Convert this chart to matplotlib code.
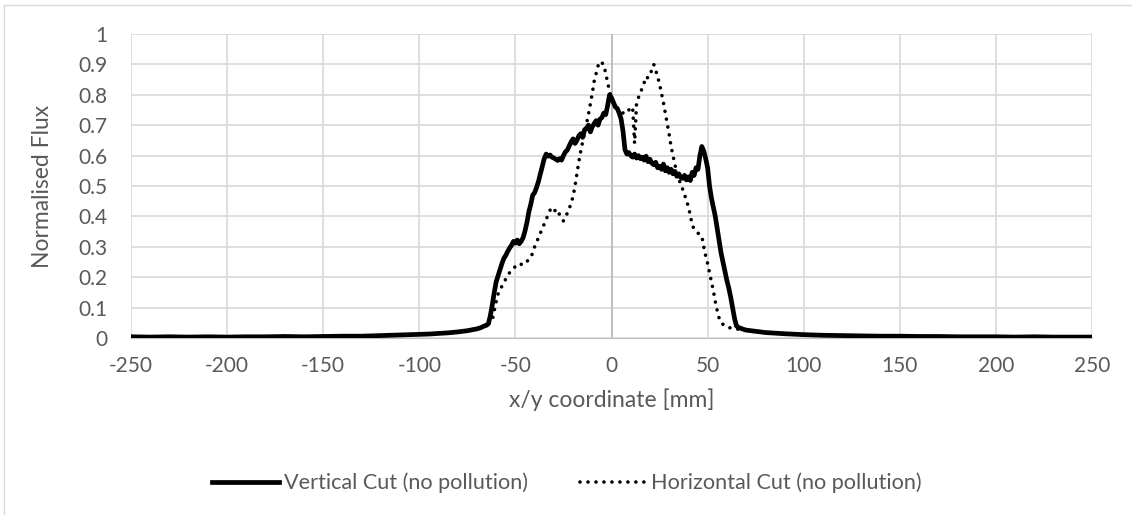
import matplotlib
matplotlib.use("Agg")
import matplotlib.pyplot as plt
from matplotlib.lines import Line2D

plt.rcParams["font.family"] = ["Lato", "DejaVu Sans"]

TEXT = "#595959"
GRID = "#d9d9d9"

# flux profile along the vertical cut, x in mm
vert_x = [-250, -240, -230, -220, -210, -200, -190, -180, -170, -160, -150, -140,
          -130, -120, -110, -100, -95, -90, -85, -80, -75, -70, -68,
          -66, -65, -64, -63, -62, -61, -60, -59, -58, -57, -56, -55, -54, -53,
          -52, -51, -50, -49, -48, -47, -46, -45, -44, -43, -42, -41, -40, -39,
          -38, -37, -36, -35, -34, -33, -32, -31, -30, -29, -28, -27, -26, -25,
          -24, -23, -22, -21, -20, -19, -18, -17, -16, -15, -14, -13, -12, -11,
          -10, -9, -8, -7, -6, -5, -4, -3, -2, -1, 0, 1, 2, 3, 4, 5, 6, 7, 8, 9,
          10, 11, 12, 13, 14, 15, 16, 17, 18, 19, 20, 21, 22, 23, 24, 25, 26, 27,
          28, 29, 30, 31, 32, 33, 34, 35, 36, 37, 38, 39, 40, 41, 42, 43, 44, 45,
          46, 47, 48, 49, 50, 51, 52, 53, 54, 55, 56, 57, 58, 59, 60, 61, 62, 63,
          64, 65, 66, 68, 70, 75, 80, 85, 90, 100, 110, 120, 130, 140, 150, 160,
          170, 180, 190, 200, 210, 220, 230, 240, 250]
vert_flux = [0.004, 0.003, 0.004, 0.003, 0.004, 0.003, 0.004, 0.004, 0.005, 0.004,
             0.005, 0.006, 0.006, 0.008, 0.010, 0.012, 0.013, 0.015, 0.017, 0.020,
             0.024, 0.030, 0.034,
             0.040, 0.042, 0.048, 0.075, 0.110, 0.150, 0.185, 0.205, 0.225, 0.245,
             0.262, 0.272, 0.285, 0.296, 0.305, 0.318, 0.312, 0.322, 0.310, 0.318,
             0.330, 0.352, 0.380, 0.415, 0.440, 0.470, 0.478, 0.495, 0.515, 0.540,
             0.565, 0.590, 0.605, 0.598, 0.602, 0.595, 0.592, 0.588, 0.584, 0.590,
             0.585, 0.600, 0.612, 0.618, 0.632, 0.645, 0.655, 0.640, 0.650, 0.665,
             0.672, 0.660, 0.685, 0.690, 0.700, 0.678, 0.695, 0.705, 0.715, 0.700,
             0.720, 0.725, 0.740, 0.735, 0.765, 0.800, 0.790, 0.775, 0.760, 0.755,
             0.740, 0.720, 0.680, 0.620, 0.605, 0.610, 0.600, 0.595, 0.605, 0.592,
             0.600, 0.590, 0.595, 0.585, 0.598, 0.580, 0.588, 0.575, 0.570, 0.578,
             0.560, 0.565, 0.555, 0.572, 0.550, 0.560, 0.545, 0.555, 0.540, 0.548,
             0.532, 0.540, 0.528, 0.525, 0.535, 0.520, 0.530, 0.518, 0.545, 0.535,
             0.560, 0.555, 0.600, 0.630, 0.615, 0.590, 0.560, 0.500, 0.460, 0.430,
             0.400, 0.360, 0.320, 0.280, 0.250, 0.220, 0.190, 0.165, 0.135, 0.100,
             0.065, 0.040, 0.035, 0.030, 0.026, 0.022, 0.018, 0.016, 0.014, 0.011,
             0.009, 0.008, 0.007, 0.006, 0.006, 0.005, 0.005, 0.004, 0.004, 0.004,
             0.003, 0.004, 0.003, 0.003, 0.003]

# flux profile along the horizontal cut
horiz_x = [-250, -240, -230, -220, -210, -200, -190, -180, -170, -160, -150, -140,
           -130, -120, -110, -100, -95, -90, -85, -80, -75, -70, -68, -66, -64,
           -62, -61, -60, -59, -58, -57, -56, -55, -54, -53, -52, -51, -50, -49,
           -48, -47, -46, -45, -44, -43, -42, -41, -40, -39, -38, -37, -36, -35,
           -34, -33, -32, -31, -30, -29, -28, -27, -26, -25, -24, -23, -22, -21,
           -20, -19, -18, -17, -16, -15, -14, -13, -12, -11, -10, -9, -8, -7, -6,
           -5, -4, -3, -2, -1, 0, 1, 2, 3, 4, 5, 6, 7, 8, 9, 10, 11, 11.5, 12,
           12.5, 13, 14, 15, 16, 17, 18, 19, 20, 21, 22, 23, 24, 25, 26, 27, 28,
           29, 30, 31, 32, 33, 34, 35, 36, 37, 38, 39, 40, 41, 42, 43, 44, 45, 46,
           47, 48, 49, 50, 51, 52, 53, 54, 55, 56, 57, 58, 59, 60, 62, 64, 66, 68,
           70, 75, 80, 85, 90, 100, 110, 120, 130, 140, 150, 160, 170, 180, 190,
           200, 210, 220, 230, 240, 250]
horiz_flux = [0.004, 0.003, 0.004, 0.003, 0.004, 0.004, 0.003, 0.004, 0.005, 0.004,
              0.005, 0.006, 0.006, 0.008, 0.010, 0.012, 0.013, 0.015, 0.017, 0.020,
              0.024, 0.030, 0.034, 0.040, 0.046, 0.060, 0.090, 0.120, 0.145, 0.160,
              0.170, 0.180, 0.195, 0.205, 0.215, 0.222, 0.230, 0.235, 0.240, 0.245,
              0.242, 0.250, 0.248, 0.252, 0.258, 0.265, 0.280, 0.300, 0.315, 0.330,
              0.345, 0.360, 0.375, 0.390, 0.405, 0.420, 0.430, 0.425, 0.415, 0.420,
              0.405, 0.395, 0.385, 0.400, 0.410, 0.425, 0.445, 0.465, 0.500, 0.540,
              0.580, 0.615, 0.645, 0.675, 0.705, 0.735, 0.770, 0.805, 0.845, 0.870,
              0.895, 0.910, 0.905, 0.900, 0.870, 0.840, 0.810, 0.790, 0.770, 0.760,
              0.755, 0.748, 0.745, 0.740, 0.745, 0.742, 0.750, 0.755, 0.760, 0.700,
              0.640, 0.700, 0.770, 0.790, 0.810, 0.820, 0.840, 0.860, 0.855, 0.870,
              0.880, 0.900, 0.880, 0.860, 0.835, 0.805, 0.775, 0.740, 0.705, 0.670,
              0.630, 0.600, 0.570, 0.545, 0.525, 0.505, 0.490, 0.470, 0.455, 0.430,
              0.405, 0.370, 0.360, 0.355, 0.345, 0.340, 0.335, 0.300, 0.270, 0.245,
              0.215, 0.185, 0.155, 0.120, 0.090, 0.065, 0.050, 0.045, 0.040, 0.036,
              0.033, 0.030, 0.029, 0.027, 0.025, 0.021, 0.018, 0.016, 0.014, 0.011,
              0.009, 0.008, 0.007, 0.006, 0.006, 0.005, 0.005, 0.004, 0.004, 0.004,
              0.003, 0.004, 0.003, 0.003, 0.003]

x_ticks = [-250, -200, -150, -100, -50, 0, 50, 100, 150, 200, 250]
y_ticks = [0, 0.1, 0.2, 0.3, 0.4, 0.5, 0.6, 0.7, 0.8, 0.9, 1]
y_labels = ["0", "0.1", "0.2", "0.3", "0.4", "0.5", "0.6", "0.7", "0.8", "0.9", "1"]

fig = plt.figure(figsize=(11.32, 5.15), dpi=100)
ax = fig.add_axes([131 / 1132, 1 - 338 / 515, 961 / 1132, 304 / 515])

# thin frame on the outer chart area
fig.add_artist(Line2D([4 / 1132, 4 / 1132], [0, 1 - 5 / 515], color=GRID, lw=1))
fig.add_artist(Line2D([4 / 1132, 1], [1 - 5 / 515, 1 - 5 / 515], color=GRID, lw=1))

ax.set_xlim(-250, 250)
ax.set_ylim(0, 1)
ax.set_xticks(x_ticks)
ax.set_xticklabels([str(t) for t in x_ticks])
ax.set_yticks(y_ticks)
ax.set_yticklabels(y_labels)
ax.grid(True, color=GRID, lw=1.2)
ax.set_axisbelow(True)
for side in ["top", "right", "left"]:
    ax.spines[side].set_visible(False)
ax.spines["bottom"].set_color("#bfbfbf")
ax.axvline(0, color="#bfbfbf", lw=1.4, zorder=1)
ax.tick_params(axis="both", length=0, labelsize=15, labelcolor=TEXT)
ax.tick_params(axis="x", pad=13)
ax.tick_params(axis="y", pad=17)

ax.plot(vert_x, vert_flux, color="black", lw=3.4, solid_joinstyle="round",
        label="Vertical Cut (no pollution)", zorder=3)
ax.plot(horiz_x, horiz_flux, color="black", lw=2.6, linestyle=(0, (0.01, 2.2)),
        dash_capstyle="round", label="Horizontal Cut (no pollution)", zorder=4)

ax.set_ylabel("Normalised Flux", fontsize=16.5, color=TEXT)
ax.yaxis.set_label_coords((53 - 131) / 961, 0.5)
ax.set_xlabel("x/y coordinate [mm]", fontsize=16.5, color=TEXT, va="center")
ax.xaxis.set_label_coords(0.5, (338 - 400) / 304)

leg = ax.legend(loc="center", bbox_to_anchor=((567 - 131) / 961, (338 - 483) / 304),
                ncol=2, frameon=False, fontsize=15.6, handlelength=3.1,
                handletextpad=0.2, columnspacing=2.4)
for t in leg.get_texts():
    t.set_color(TEXT)

fig.savefig("out.png", dpi=100)
